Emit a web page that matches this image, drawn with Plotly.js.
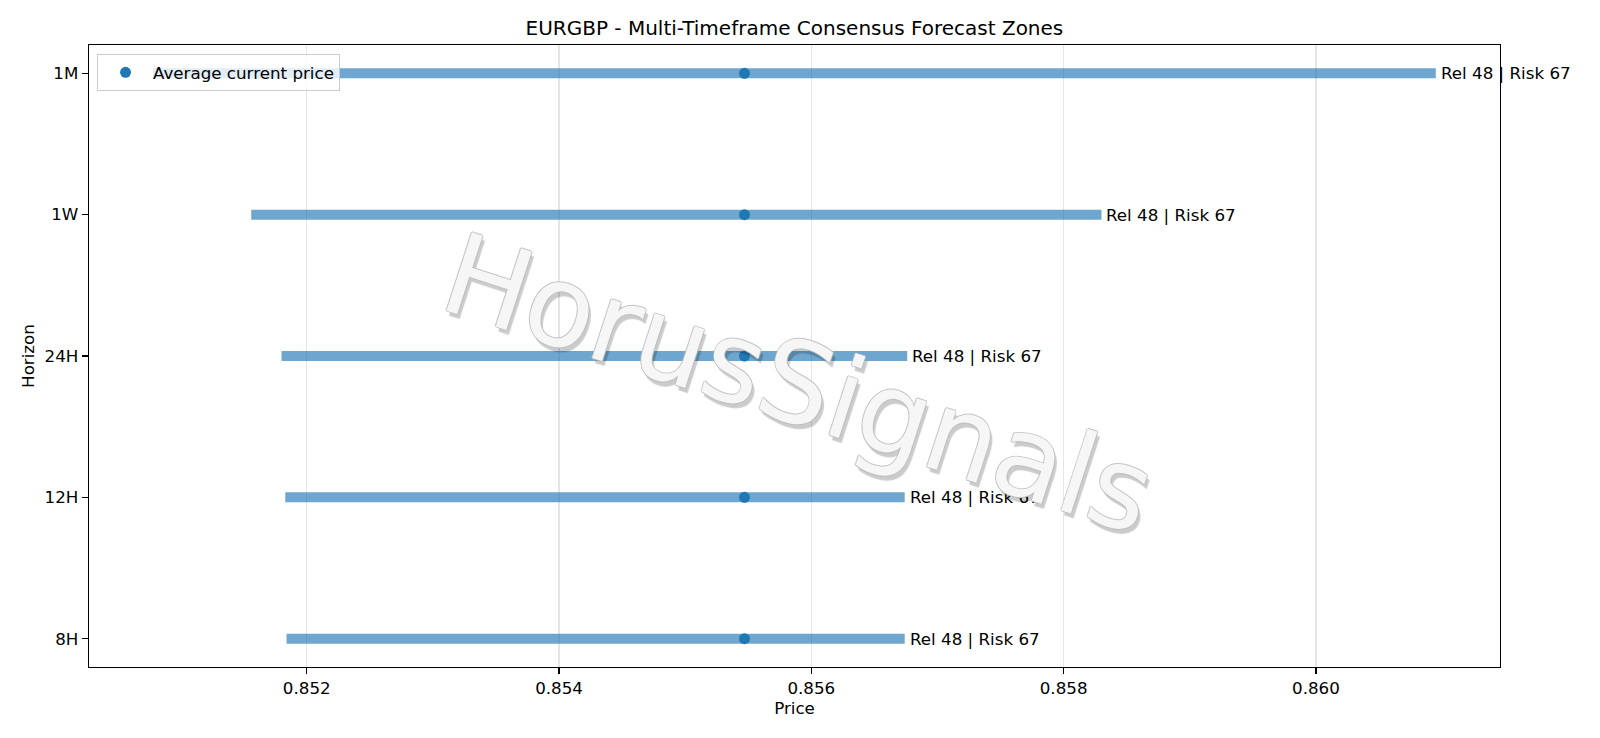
<!DOCTYPE html>
<html>
<head>
<meta charset="utf-8">
<script src="https://cdn.plot.ly/plotly-3.0.1.min.js"></script>
<style>
    body { margin: 0; background: #ffffff; }
    #chart { width: 1600px; height: 738px; }
</style>
</head>
<body>
<div id="chart"></div>
<script>
// Forecast zones per horizon
const horizons = ['8H', '12H', '24H', '1W', '1M'];
const zoneLow = [0.85184, 0.85183, 0.85180, 0.85156, 0.85078];
const zoneHigh = [0.85674, 0.85674, 0.85676, 0.85830, 0.86095];
const currentPrice = [0.85547, 0.85547, 0.85547, 0.85547, 0.85547];
const zoneLabels = [
    'Rel 48 | Risk 67',
    'Rel 48 | Risk 67',
    'Rel 48 | Risk 67',
    'Rel 48 | Risk 67',
    'Rel 48 | Risk 67'
];

const FONT = 'DejaVu Sans, Liberation Sans, sans-serif';
const FS = 16.7;
const BLUE = '#1f77b4';
const ZONE_COLOR = 'rgba(31,119,180,0.65)';

const traces = [];

// One horizontal line per zone
for (let i = 0; i < horizons.length; i++) {
    traces.push({
        type: 'scatter',
        mode: 'lines',
        x: [zoneLow[i], zoneHigh[i]],
        y: [horizons[i], horizons[i]],
        line: { color: ZONE_COLOR, width: 10 },
        showlegend: false,
        hoverinfo: 'skip'
    });
}

traces.push({
    type: 'scatter',
    mode: 'markers',
    name: 'Average current price',
    x: currentPrice,
    y: horizons,
    marker: { color: BLUE, size: 11 }
});

const annotations = horizons.map((h, i) => ({
    x: zoneHigh[i],
    y: h,
    xref: 'x',
    yref: 'y',
    text: zoneLabels[i],
    showarrow: false,
    xanchor: 'left',
    yanchor: 'middle',
    xshift: 3,
    font: { family: FONT, size: FS, color: '#000000' }
}));

// Watermark: light fill, grey edge and a soft drop shadow
annotations.push({
    x: 0.503,
    y: 0.455,
    xref: 'paper',
    yref: 'paper',
    text: 'HorusSignals',
    showarrow: false,
    textangle: 18,
    font: {
        family: FONT,
        size: 113,
        color: 'rgba(255,255,255,0.86)',
        shadow: '-1px 0 0 #bdbdbd, 1px 0 0 #bdbdbd, 0 -1px 0 #bdbdbd, 0 1px 0 #bdbdbd, 4px 4px 1px rgba(0,0,0,0.24)'
    }
});

const axisCommon = {
    showline: true,
    linecolor: '#000000',
    linewidth: 1.3,
    mirror: true,
    ticks: 'outside',
    ticklen: 6,
    tickwidth: 1.3,
    tickcolor: '#000000',
    tickfont: { family: FONT, size: FS, color: '#000000' },
    zeroline: false
};

const layout = {
    width: 1600,
    height: 738,
    margin: { l: 89, r: 100, t: 45, b: 71 },
    paper_bgcolor: '#ffffff',
    plot_bgcolor: '#ffffff',
    font: { family: FONT, size: FS, color: '#000000' },
    title: {
        text: 'EURGBP - Multi-Timeframe Consensus Forecast Zones',
        font: { family: FONT, size: 20, color: '#000000' },
        x: 0.4965,
        xanchor: 'center',
        y: 1 - 28 / 738,
        yanchor: 'middle',
        yref: 'container'
    },
    xaxis: Object.assign({}, axisCommon, {
        range: [0.850274, 0.861459],
        tick0: 0.852,
        dtick: 0.002,
        tickformat: '.3f',
        showgrid: true,
        gridcolor: '#e6e6e6',
        gridwidth: 1.3,
        title: { text: 'Price', font: { family: FONT, size: FS }, standoff: 4 }
    }),
    yaxis: Object.assign({}, axisCommon, {
        type: 'category',
        categoryorder: 'array',
        categoryarray: horizons,
        range: [-0.2, 4.2],
        showgrid: false,
        title: { text: 'Horizon', font: { family: FONT, size: FS }, standoff: 5 }
    }),
    legend: {
        x: 0.0057,
        y: 0.9855,
        xanchor: 'left',
        yanchor: 'top',
        itemwidth: 45,
        bgcolor: 'rgba(255,255,255,0.8)',
        bordercolor: '#cccccc',
        borderwidth: 1,
        font: { family: FONT, size: FS, color: '#000000' }
    },
    annotations: annotations,
    showlegend: true
};

Plotly.newPlot('chart', traces, layout, { displayModeBar: false, staticPlot: true });
</script>
</body>
</html>
